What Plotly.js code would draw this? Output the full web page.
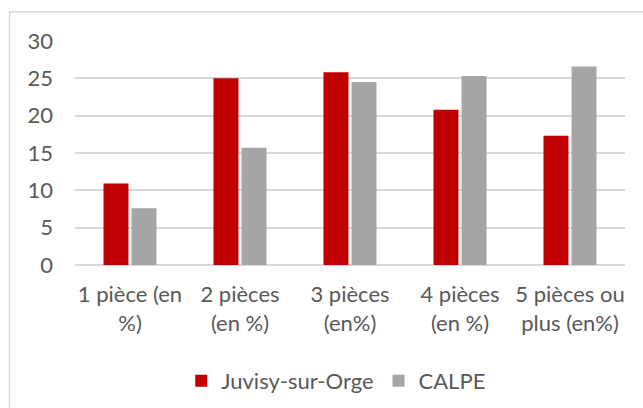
<!DOCTYPE html>
<html>
<head>
<meta charset="utf-8">
<script src="https://cdn.plot.ly/plotly-3.0.1.min.js"></script>
<style>
  html, body { margin: 0; padding: 0; background: #ffffff; }
  #chart { width: 643px; height: 408px; }
</style>
</head>
<body>
<div id="chart"></div>
<script>
const categories = [
  "1 pièce (en<br>%)",
  "2 pièces<br>(en %)",
  "3 pièces<br>(en%)",
  "4 pièces<br>(en %)",
  "5 pièces ou<br>plus (en%)"
];
const juvisyValues = [10.9, 25.0, 25.8, 20.8, 17.3];
const calpeValues = [7.6, 15.7, 24.5, 25.3, 26.6];
const seriesNames = ["Juvisy-sur-Orge", "CALPE"];
const yTicks = [0, 5, 10, 15, 20, 25, 30];

const fontFamily = "Lato, Carlito, Calibri, sans-serif";
const textColor = "#595959";
const fontSize = 22;

const data = [
  { type: "bar", name: seriesNames[0], x: categories, y: juvisyValues,
    marker: { color: "#C00000" }, hoverinfo: "x+y+name" },
  { type: "bar", name: seriesNames[1], x: categories, y: calpeValues,
    marker: { color: "#A5A5A5" }, hoverinfo: "x+y+name" }
];

const layout = {
  width: 643, height: 408,
  margin: { l: 75, r: 18, t: 40.7, b: 143, pad: 0, autoexpand: false },
  paper_bgcolor: "#ffffff", plot_bgcolor: "#ffffff",
  font: { family: fontFamily, size: fontSize, color: textColor },
  barmode: "group", bargap: 0.49, bargroupgap: 0.11,
  showlegend: true,
  legend: { orientation: "h", x: 0.475, xanchor: "center", y: -0.518, yanchor: "middle",
            font: { family: fontFamily, size: fontSize, color: textColor }, itemwidth: 30, traceorder: "normal" },
  xaxis: { type: "category", showgrid: false, zeroline: false, showline: false, automargin: false,
           ticks: "", ticklabelstandoff: 14, tickfont: { family: fontFamily, size: fontSize, color: textColor } },
  yaxis: { range: [0, 30], tickvals: yTicks, ticktext: yTicks.map(String), automargin: false,
           showgrid: true, gridcolor: "#D9D9D9", gridwidth: 2,
           zeroline: true, zerolinecolor: "#D9D9D9", zerolinewidth: 2, showline: false,
           ticks: "", ticklabelstandoff: 21, tickfont: { family: fontFamily, size: fontSize, color: textColor } },
  shapes: [
    { type: "rect", xref: "paper", yref: "paper",
      x0: (9.5 - 75) / 550, x1: (660 - 75) / 550,
      y0: (265 - 430) / 224.3, y1: (265 - 11.5) / 224.3,
      line: { color: "#D9D9D9", width: 1.5 }, fillcolor: "rgba(0,0,0,0)", layer: "below" }
  ]
};

Plotly.newPlot("chart", data, layout, { displayModeBar: false, staticPlot: true });
</script>
</body>
</html>
